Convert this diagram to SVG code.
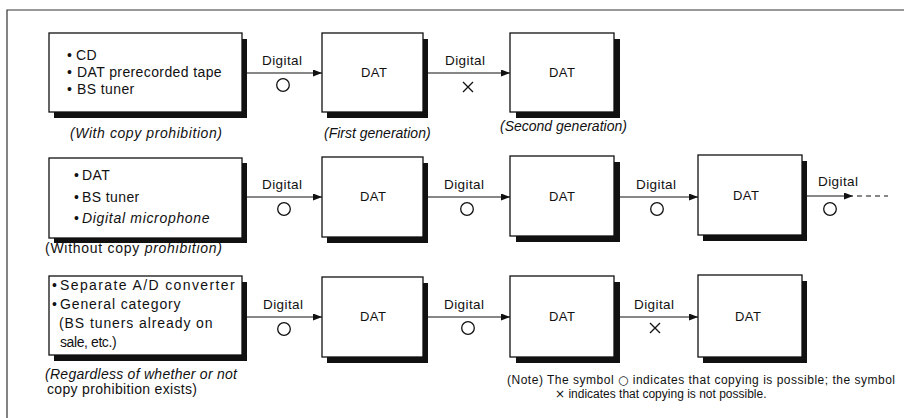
<svg xmlns="http://www.w3.org/2000/svg" width="904" height="418" viewBox="0 0 904 418">
<style>
.frame{stroke:#333;stroke-width:1.2;fill:none}
.box{fill:#fff;stroke:#111;stroke-width:1.3}
.sh{fill:#111}
.t{font-family:"Liberation Sans",Arial,sans-serif;fill:#111}
.b{font-size:14px;letter-spacing:0.4px}
.lab{font-size:14px;font-style:italic}
.up{font-size:14px}
.dig{font-size:13.5px;text-anchor:middle}
.dat{font-size:13px;text-anchor:middle}
.note{font-size:12px}
.sym{font-family:"DejaVu Sans",sans-serif}
.ln{stroke:#111;stroke-width:1.2;fill:none}
.dash{stroke:#111;stroke-width:1.2;fill:none;stroke-dasharray:5 4}
.ok{stroke:#111;stroke-width:1.3;fill:none}
</style>
<defs>
<marker id="ah" markerUnits="userSpaceOnUse" markerWidth="9" markerHeight="7" refX="9" refY="3.5" orient="auto">
<path d="M0,0 L9,3.5 L0,7 z" fill="#111"/>
</marker>
</defs>
<rect x="0" y="0" width="904" height="418" fill="#fff"/>
<path class="frame" d="M7,418 L7,10 L904,10"/>

<g id="connectors">
<line class="ln" x1="242" y1="73" x2="322" y2="73" marker-end="url(#ah)"/>
<line class="ln" x1="423" y1="73" x2="510" y2="73" marker-end="url(#ah)"/>
<line class="ln" x1="242" y1="197" x2="322" y2="197" marker-end="url(#ah)"/>
<line class="ln" x1="423" y1="197" x2="510" y2="197" marker-end="url(#ah)"/>
<line class="ln" x1="614" y1="197" x2="698" y2="197" marker-end="url(#ah)"/>
<line class="ln" x1="802" y1="196" x2="853" y2="196" marker-end="url(#ah)"/>
<line class="dash" x1="857" y1="196" x2="888" y2="196"/>
<line class="ln" x1="242" y1="317" x2="322" y2="317" marker-end="url(#ah)"/>
<line class="ln" x1="423" y1="317" x2="510" y2="317" marker-end="url(#ah)"/>
<line class="ln" x1="614" y1="317" x2="698" y2="317" marker-end="url(#ah)"/>

<text class="t dig" x="282" y="65" textLength="40">Digital</text>
<text class="t dig" x="465" y="65" textLength="40">Digital</text>
<text class="t dig" x="282" y="189" textLength="40">Digital</text>
<text class="t dig" x="464" y="189" textLength="40">Digital</text>
<text class="t dig" x="656" y="189" textLength="40">Digital</text>
<text class="t dig" x="838" y="186" textLength="40">Digital</text>
<text class="t dig" x="283" y="309" textLength="40">Digital</text>
<text class="t dig" x="464" y="309" textLength="40">Digital</text>
<text class="t dig" x="654" y="309" textLength="40">Digital</text>

<circle class="ok" cx="283" cy="85" r="6.3"/>
<path class="ok" d="M463,82 L473,92 M473,82 L463,92"/>
<circle class="ok" cx="284" cy="209" r="6.3"/>
<circle class="ok" cx="467" cy="209" r="6.3"/>
<circle class="ok" cx="657" cy="209" r="6.3"/>
<circle class="ok" cx="830" cy="209" r="6.3"/>
<circle class="ok" cx="284" cy="329" r="6.3"/>
<circle class="ok" cx="468" cy="328" r="6.3"/>
<path class="ok" d="M650,323 L660,333 M660,323 L650,333"/>
</g>

<g id="src1">
<rect class="sh" x="54" y="39" width="193" height="79"/>
<rect class="box" x="49" y="33" width="193" height="79"/>
<text class="t b" x="67" y="60">•</text><text class="t b" x="76" y="60">CD</text>
<text class="t b" x="67" y="77">•</text><text class="t b" x="77" y="77" textLength="145">DAT prerecorded tape</text>
<text class="t b" x="67" y="94">•</text><text class="t b" x="77" y="94">BS tuner</text>
<text class="t lab" x="70" y="138" textLength="152">(With copy prohibition)</text>
</g>
<g id="dat1a">
<rect class="sh" x="327" y="39" width="101" height="79"/>
<rect class="box" x="322" y="33" width="101" height="79"/>
<text class="t dat" x="374" y="77" textLength="26">DAT</text>
<text class="t lab" x="324" y="138" font-size="13">(First generation)</text>
</g>
<g id="dat1b">
<rect class="sh" x="516" y="39" width="104" height="79"/>
<rect class="box" x="510" y="33" width="104" height="79"/>
<text class="t dat" x="562" y="77" textLength="26">DAT</text>
<text class="t lab" x="500" y="131" font-size="13">(Second generation)</text>
</g>

<g id="src2">
<rect class="sh" x="54" y="163" width="193" height="80"/>
<rect class="box" x="49" y="158" width="193" height="80"/>
<text class="t b" x="74" y="180">•</text><text class="t b" x="82" y="180">DAT</text>
<text class="t b" x="74" y="202">•</text><text class="t b" x="82" y="202">BS tuner</text>
<text class="t b" x="74" y="223">•</text><text class="t b" x="82" y="223" textLength="128" font-style="italic">Digital microphone</text>
<text class="t up" x="45" y="253" textLength="177">(Without copy <tspan font-style="italic">prohibition)</tspan></text>
</g>
<g id="dat2a">
<rect class="sh" x="327" y="163" width="101" height="80"/>
<rect class="box" x="322" y="157" width="101" height="80"/>
<text class="t dat" x="373" y="201" textLength="26">DAT</text>
</g>
<g id="dat2b">
<rect class="sh" x="516" y="162" width="104" height="80"/>
<rect class="box" x="510" y="156" width="104" height="80"/>
<text class="t dat" x="562" y="201" textLength="26">DAT</text>
</g>
<g id="dat2c">
<rect class="sh" x="703" y="161" width="104" height="80"/>
<rect class="box" x="698" y="155" width="104" height="80"/>
<text class="t dat" x="746" y="200" textLength="26">DAT</text>
</g>

<g id="src3">
<rect class="sh" x="54" y="282" width="193" height="79"/>
<rect class="box" x="49" y="276" width="193" height="79"/>
<text class="t b" x="52" y="290">•</text><text class="t b" x="60" y="290" textLength="175">Separate A/D converter</text>
<text class="t b" x="52" y="309">•</text><text class="t b" x="60" y="309" textLength="121">General category</text>
<text class="t b" x="59" y="328" textLength="154">(BS tuners already on</text>
<text class="t b" x="60" y="347" textLength="57">sale, etc.)</text>
<text class="t lab" x="45" y="379" textLength="192">(Regardless of whether or not</text>
<text class="t up" x="47" y="394" textLength="150">copy prohibition exists)</text>
</g>
<g id="dat3a">
<rect class="sh" x="327" y="283" width="101" height="80"/>
<rect class="box" x="322" y="277" width="101" height="80"/>
<text class="t dat" x="373" y="321" textLength="26">DAT</text>
</g>
<g id="dat3b">
<rect class="sh" x="516" y="282" width="104" height="81"/>
<rect class="box" x="510" y="276" width="104" height="81"/>
<text class="t dat" x="562" y="321" textLength="26">DAT</text>
</g>
<g id="dat3c">
<rect class="sh" x="703" y="281" width="104" height="82"/>
<rect class="box" x="698" y="275" width="104" height="82"/>
<text class="t dat" x="748" y="321" textLength="26">DAT</text>
</g>

<g id="note">
<text class="t note" x="507" y="384" textLength="388">(Note) The symbol <tspan class="sym">○</tspan> indicates that copying is possible; the symbol</text>
<text class="t note" x="555" y="398" font-size="11"><tspan class="sym">×</tspan> indicates that copying is not possible.</text>
</g>
</svg>
